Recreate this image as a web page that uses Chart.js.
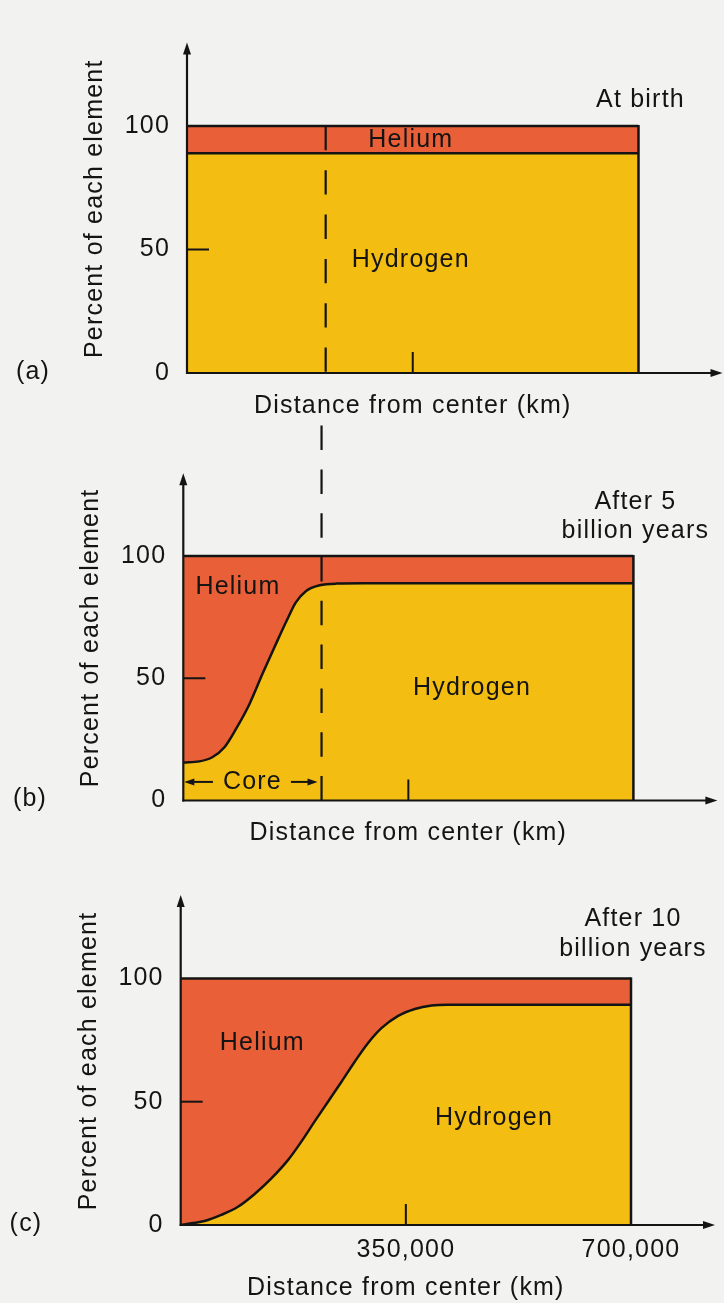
<!DOCTYPE html>
<html>
<head>
<meta charset="utf-8">
<title>Hydrogen and helium inside a Sun-like star</title>
<script src="https://cdn.jsdelivr.net/npm/chart.js@4/dist/chart.umd.min.js"></script>
<style>
  html, body { margin: 0; padding: 0; background: #f2f2f0; }
  #stage { position: relative; width: 724px; height: 1303px; overflow: hidden; }
  #stage canvas { position: absolute; left: 0; }
</style>
</head>
<body>
<div id="stage">
  <canvas id="birth"></canvas>
  <canvas id="five"></canvas>
  <canvas id="ten"></canvas>
</div>
<script>
// ---- data (distance in km, composition in percent) ----
const xTickValues = [350000, 700000];
const yTickValues = [0, 50, 100];
const starRadius = 700000;
const coreRadius = 215000;

const heliumDistance = [0, 700000];
const heliumTop = [100, 100];

const birthDistance = [0, 700000];
const birthHydrogen = [89, 89];

const fiveGyrDistance = [0, 25000, 45000, 64000, 82000, 103000, 123000, 144000, 162000, 175000, 191000, 212000, 238000, 280000, 700000];
const fiveGyrHydrogen = [15.5, 16, 17.7, 21.8, 29.3, 39.5, 51.7, 64, 74.2, 81, 85.7, 88, 88.7, 88.8, 88.8];

const tenGyrDistance = [0, 16500, 37000, 63000, 89000, 115000, 141000, 167000, 187500, 208000, 229000, 250000, 270500, 291000, 312000, 338000, 364000, 390000, 415000, 700000];
const tenGyrHydrogen = [0, 0.7, 1.6, 4.1, 7.4, 12.6, 18.9, 26.4, 33.8, 41.9, 50, 58.1, 66.2, 73.7, 79.8, 84.8, 87.6, 89, 89.3, 89.3];

const panelLetters = ['(a)', '(b)', '(c)'];
const captions = [['At birth'], ['After 5', 'billion years'], ['After 10', 'billion years']];
const yTitle = 'Percent of each element';
const xTitle = 'Distance from center (km)';

// ---- styles ----
const INK = '#141414';
const HYDROGEN = '#f3bd12';
const HELIUM = '#e85f38';
const FONT_FAMILY = "'Liberation Sans', Arial, Helvetica, sans-serif";
const FONT_SIZE = 25;
const SPACING = '1.2px';

// Per-panel placement on the page (pixels) and text anchors (data units)
const panels = [
  { id: 'birth', canvasTop: 0, height: 422, left: 187, right: 638.5, top: 44.5, bottom: 373,
    yTitleX: 95, xTitleGap: 1, letterX: 33, showXLabels: false,
    distance: birthDistance, hydrogen: birthHydrogen,
    dash: 'down', captionY: 110.5,
    labels: [{ text: 'Helium', x: 347000, y: 94.3 }, { text: 'Hydrogen', x: 347000, y: 45.8 }] },
  { id: 'five', canvasTop: 422, height: 438, left: 183.3, right: 633.4, top: 53.3, bottom: 378.5,
    yTitleX: 91, xTitleGap: 12, letterX: 30, showXLabels: false,
    distance: fiveGyrDistance, hydrogen: fiveGyrHydrogen,
    dash: 'up', captionY: 110, coreArrowY: 7.6,
    labels: [{ text: 'Helium', x: 85000, y: 87.4 }, { text: 'Hydrogen', x: 449000, y: 45.8 }] },
  { id: 'ten', canvasTop: 860, height: 443, left: 180.7, right: 631, top: 37, bottom: 365,
    yTitleX: 89, xTitleGap: 0, letterX: 26, showXLabels: true,
    distance: tenGyrDistance, hydrogen: tenGyrHydrogen,
    dash: null, captionY: 112,
    labels: [{ text: 'Helium', x: 126900, y: 73.9 }, { text: 'Hydrogen', x: 487000, y: 43.4 }] }
];

const font = () => ({ family: FONT_FAMILY, size: FONT_SIZE, weight: 'normal', lineHeight: 1.2 });

function line(ctx, x1, y1, x2, y2) {
  ctx.beginPath(); ctx.moveTo(x1, y1); ctx.lineTo(x2, y2); ctx.stroke();
}
function arrowHead(ctx, tx, ty, dir, len, half) {
  ctx.beginPath();
  if (dir === 'up') { ctx.moveTo(tx, ty); ctx.lineTo(tx - half, ty + len); ctx.lineTo(tx + half, ty + len); }
  if (dir === 'right') { ctx.moveTo(tx, ty); ctx.lineTo(tx - len, ty - half); ctx.lineTo(tx - len, ty + half); }
  if (dir === 'left') { ctx.moveTo(tx, ty); ctx.lineTo(tx + len, ty - half); ctx.lineTo(tx + len, ty + half); }
  ctx.closePath(); ctx.fill();
}

// Axes with arrows, inner tick marks, the box edge, the core boundary and the text labels
const decor = {
  id: 'decor',
  beforeUpdate(chart) { chart.ctx.letterSpacing = SPACING; },
  beforeDraw(chart) { chart.ctx.letterSpacing = SPACING; },
  afterDatasetsDraw(chart, args, opts) {
    const p = opts.panel;
    const { ctx, chartArea: area, scales: { x, y } } = chart;
    const y0 = y.getPixelForValue(0);
    const y100 = y.getPixelForValue(100);
    const xEnd = x.getPixelForValue(starRadius);
    ctx.save();
    ctx.letterSpacing = SPACING;
    ctx.strokeStyle = INK;
    ctx.fillStyle = INK;
    ctx.lineCap = 'butt';

    // right edge of the composition box
    ctx.lineWidth = 2.5;
    line(ctx, xEnd, y100 - 1, xEnd, y0);

    // inner tick marks
    ctx.lineWidth = 2;
    yTickValues.filter(v => v > 0 && v < 100).forEach(v => {
      const py = y.getPixelForValue(v);
      line(ctx, area.left, py, area.left + 22, py);
    });
    xTickValues.filter(v => v > 0 && v < starRadius).forEach(v => {
      const px = x.getPixelForValue(v);
      line(ctx, px, y0, px, y0 - 21);
    });

    // axes
    ctx.lineWidth = 2.2;
    line(ctx, area.left, y0 + 1, area.left, area.top + 6);
    arrowHead(ctx, area.left, area.top - 2, 'up', 12, 4);
    const xTip = area.right + 84;
    line(ctx, area.left - 1, y0, xTip - 6, y0);
    arrowHead(ctx, xTip, y0, 'right', 12, 4);

    // core boundary
    if (p.dash) {
      const xc = x.getPixelForValue(coreRadius);
      ctx.lineWidth = 2.2;
      if (p.dash === 'down') {
        ctx.setLineDash([24.3, 20]);
        line(ctx, xc, y100, xc, y0);
      } else {
        ctx.setLineDash([24.5, 19.3]);
        line(ctx, xc, y0, xc, 0);
      }
      ctx.setLineDash([]);
    }

    // text
    ctx.font = `${FONT_SIZE}px ${FONT_FAMILY}`;
    ctx.textBaseline = 'middle';
    ctx.textAlign = 'center';
    p.labels.forEach(l => {
      ctx.fillText(l.text, x.getPixelForValue(l.x), y.getPixelForValue(l.y));
    });

    if (p.coreArrowY !== undefined) {
      const xl = x.getPixelForValue(0);
      const xr = x.getPixelForValue(coreRadius);
      const cy = y.getPixelForValue(p.coreArrowY);
      const cx = (xl + xr) / 2;
      const w = ctx.measureText('Core').width;
      ctx.fillText('Core', cx, cy);
      ctx.lineWidth = 2;
      line(ctx, cx - w / 2 - 10, cy, xl + 8, cy);
      arrowHead(ctx, xl + 1, cy, 'left', 10, 3.5);
      line(ctx, cx + w / 2 + 9, cy, xr - 12, cy);
      arrowHead(ctx, xr - 4, cy, 'right', 10, 3.5);
    }

    const capLines = captions[opts.index];
    const capX = xEnd + 2;
    const capY = y.getPixelForValue(p.captionY);
    capLines.forEach((t, i) => {
      ctx.fillText(t, capX, capY - (capLines.length - 1 - i) * 29.5);
    });

    ctx.fillText(panelLetters[opts.index], p.letterX, y0 - 1);
    ctx.restore();
  }
};

panels.forEach((p, index) => {
  const canvas = document.getElementById(p.id);
  canvas.width = 724;
  canvas.height = p.height;
  canvas.style.top = p.canvasTop + 'px';

  const hydrogenData = p.distance.map((d, i) => ({ x: d, y: p.hydrogen[i] }));
  const heliumData = heliumDistance.map((d, i) => ({ x: d, y: heliumTop[i] }));

  new Chart(canvas, {
    type: 'line',
    data: {
      datasets: [
        { label: 'Hydrogen', data: hydrogenData, fill: 'origin', backgroundColor: HYDROGEN,
          borderColor: INK, borderWidth: 2.5, pointRadius: 0, cubicInterpolationMode: 'monotone' },
        { label: 'Helium', data: heliumData, fill: '-1', backgroundColor: HELIUM,
          borderColor: INK, borderWidth: 2.5, pointRadius: 0 }
      ]
    },
    options: {
      responsive: false,
      animation: false,
      events: [],
      layout: { padding: { left: 0, top: p.top, right: 724 - p.right, bottom: 0 } },
      plugins: {
        legend: { display: false },
        tooltip: { enabled: false },
        decor: { panel: p, index }
      },
      scales: {
        x: {
          type: 'linear', min: 0, max: starRadius,
          afterFit: s => { s.height = p.height - p.bottom; },
          afterBuildTicks: s => { s.ticks = xTickValues.map(v => ({ value: v })); },
          grid: { display: false, drawTicks: false },
          border: { display: false },
          ticks: { display: p.showXLabels, padding: 10, color: INK, font: font(),
                   callback: v => v.toLocaleString('en-US') },
          title: { display: true, text: xTitle, color: INK, font: font(),
                   padding: { top: 0, bottom: p.xTitleGap } }
        },
        y: {
          type: 'linear', min: 0, max: 133,
          afterFit: s => { s.width = p.left; },
          afterBuildTicks: s => { s.ticks = yTickValues.map(v => ({ value: v })); },
          grid: { display: false, drawTicks: false },
          border: { display: false },
          ticks: { padding: 17, color: INK, font: font() },
          title: { display: true, text: yTitle, color: INK, font: font(),
                   padding: { top: p.yTitleX - 15, bottom: 0 } }
        }
      }
    },
    plugins: [decor]
  });
});
</script>
</body>
</html>
